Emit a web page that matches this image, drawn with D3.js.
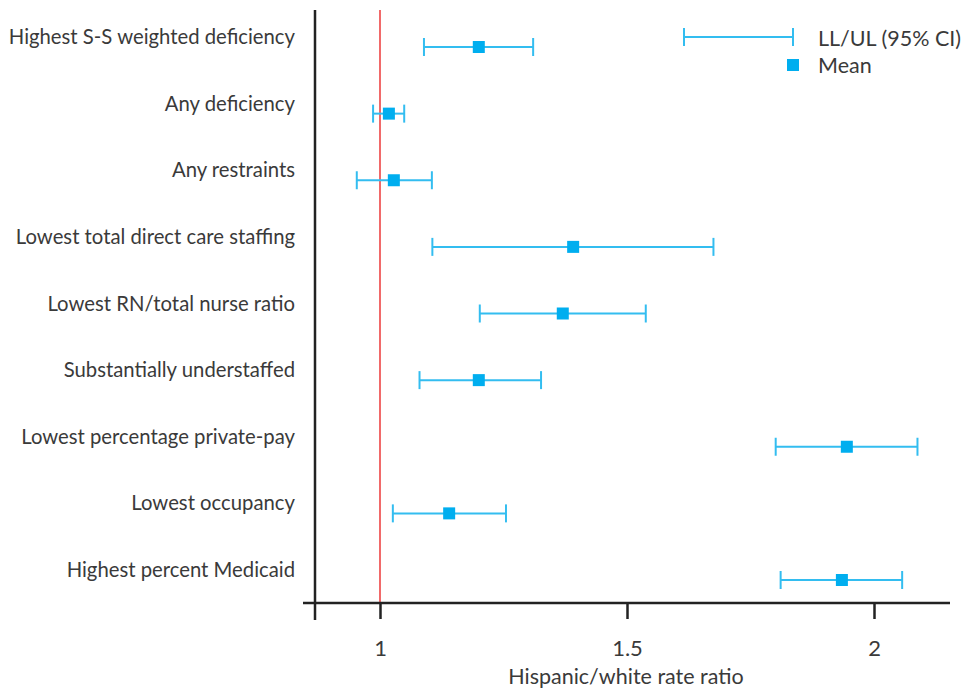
<!DOCTYPE html>
<html>
<head>
<meta charset="utf-8">
<script src="https://cdn.jsdelivr.net/npm/d3@7"></script>
<style>
  body { margin: 0; background: #fff; }
  svg { display: block; font-family: Lato, "Noto Sans", sans-serif; }
</style>
</head>
<body>
<svg id="chart" width="969" height="692"></svg>
<script>
const categories = [
  "Highest S-S weighted deficiency",
  "Any deficiency",
  "Any restraints",
  "Lowest total direct care staffing",
  "Lowest RN/total nurse ratio",
  "Substantially understaffed",
  "Lowest percentage private-pay",
  "Lowest occupancy",
  "Highest percent Medicaid"
];
const lower = [1.089, 0.986, 0.953, 1.106, 1.202, 1.080, 1.801, 1.026, 1.811];
const mean  = [1.200, 1.018, 1.028, 1.391, 1.370, 1.200, 1.945, 1.140, 1.935];
const upper = [1.310, 1.049, 1.105, 1.675, 1.538, 1.326, 2.088, 1.255, 2.057];
const tickValues = [1, 1.5, 2];
const tickLabels = ["1", "1.5", "2"];
const referenceValue = 1;
const xTitle = "Hispanic/white rate ratio";
const legendLabels = ["LL/UL (95% CI)", "Mean"];

const data = categories.map((c, i) => ({ cat: c, lo: lower[i], m: mean[i], hi: upper[i] }));

const svg = d3.select("#chart");
const barColor = "#33bdf0";
const markColor = "#00aeef";
const textColor = "#3a3a3a";

const axisLeftX = 315, axisY = 603;
const x = d3.scaleLinear().domain([1, 2]).range([380, 874]);
const y = d3.scalePoint().domain(categories).range([47, 580]);

// reference line
svg.append("line")
  .attr("x1", x(referenceValue)).attr("x2", x(referenceValue))
  .attr("y1", 10).attr("y2", axisY)
  .attr("stroke", "#ee4444").attr("stroke-width", 1.6);

// y axis line
svg.append("line")
  .attr("x1", axisLeftX).attr("x2", axisLeftX)
  .attr("y1", 10).attr("y2", 620)
  .attr("stroke", "#222").attr("stroke-width", 2.5);

// x axis
const xAxis = d3.axisBottom(x).tickValues(tickValues)
  .tickFormat((d, i) => tickLabels[i]).tickSize(16).tickPadding(21);
const gx = svg.append("g").attr("transform", `translate(0,${axisY})`).call(xAxis);
gx.select(".domain").remove();
gx.append("line").attr("x1", 303).attr("x2", 950).attr("y1", 0).attr("y2", 0)
  .attr("stroke", "#222").attr("stroke-width", 2.5);
gx.selectAll(".tick line").attr("stroke", "#222").attr("stroke-width", 2.5);
gx.selectAll(".tick text").attr("fill", textColor)
  .style("font-family", "Lato, 'Noto Sans', sans-serif").style("font-size", "22px");

svg.append("text")
  .attr("x", 626).attr("y", 684).attr("text-anchor", "middle")
  .attr("fill", textColor).style("font-size", "21.5px").text(xTitle);

// category labels
svg.append("g").selectAll("text").data(data).join("text")
  .attr("x", 295).attr("y", d => y(d.cat) - 3)
  .attr("text-anchor", "end").attr("fill", textColor)
  .style("font-size", "20.3px").text(d => d.cat);

// error bars
const cap = 9;
const rows = svg.append("g").selectAll("g").data(data).join("g");
rows.append("line")
  .attr("x1", d => x(d.lo)).attr("x2", d => x(d.hi))
  .attr("y1", d => y(d.cat)).attr("y2", d => y(d.cat))
  .attr("stroke", barColor).attr("stroke-width", 2);
rows.append("line")
  .attr("x1", d => x(d.lo)).attr("x2", d => x(d.lo))
  .attr("y1", d => y(d.cat) - cap).attr("y2", d => y(d.cat) + cap)
  .attr("stroke", barColor).attr("stroke-width", 2);
rows.append("line")
  .attr("x1", d => x(d.hi)).attr("x2", d => x(d.hi))
  .attr("y1", d => y(d.cat) - cap).attr("y2", d => y(d.cat) + cap)
  .attr("stroke", barColor).attr("stroke-width", 2);
const sq = 12;
rows.append("rect")
  .attr("x", d => x(d.m) - sq / 2).attr("y", d => y(d.cat) - sq / 2)
  .attr("width", sq).attr("height", sq).attr("fill", markColor);

// legend
const lg = svg.append("g");
const ly1 = 37, ly2 = 65;
lg.append("line").attr("x1", 684).attr("x2", 793).attr("y1", ly1).attr("y2", ly1)
  .attr("stroke", barColor).attr("stroke-width", 2);
lg.append("line").attr("x1", 684).attr("x2", 684).attr("y1", ly1 - cap).attr("y2", ly1 + cap)
  .attr("stroke", barColor).attr("stroke-width", 2);
lg.append("line").attr("x1", 793).attr("x2", 793).attr("y1", ly1 - cap).attr("y2", ly1 + cap)
  .attr("stroke", barColor).attr("stroke-width", 2);
lg.append("rect").attr("x", 793 - sq / 2).attr("y", ly2 - sq / 2)
  .attr("width", sq).attr("height", sq).attr("fill", markColor);
lg.append("text").attr("x", 818).attr("y", ly1 + 9).attr("fill", textColor)
  .style("font-size", "21.5px").text(legendLabels[0]);
lg.append("text").attr("x", 818).attr("y", ly2 + 8).attr("fill", textColor)
  .style("font-size", "21.5px").text(legendLabels[1]);
</script>
</body>
</html>
